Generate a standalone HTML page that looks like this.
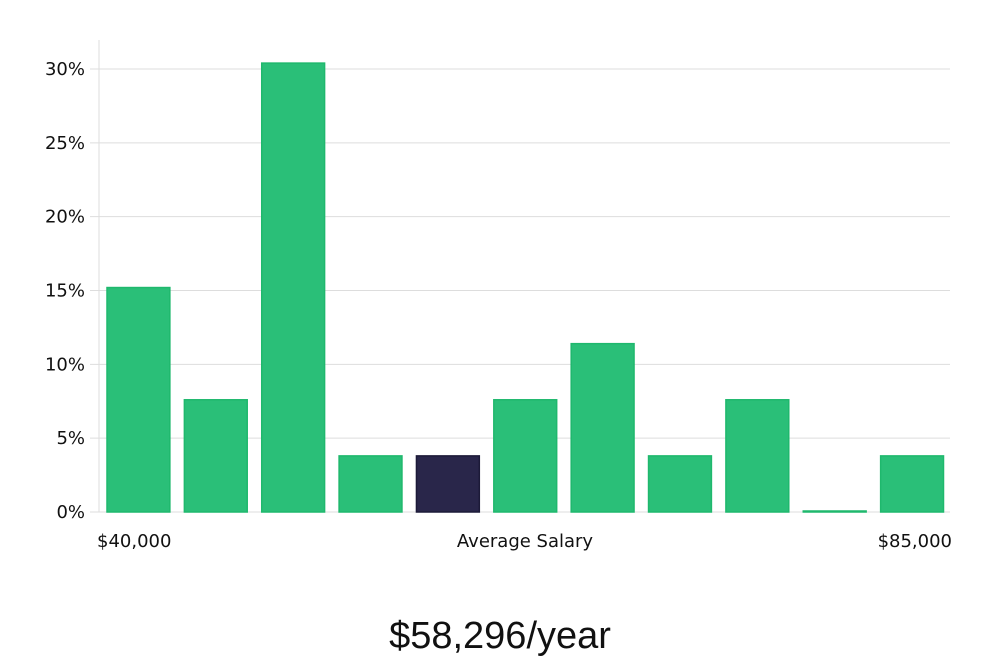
<!DOCTYPE html>
<html><head><meta charset="utf-8"><style>
body{margin:0;background:#fff;width:1000px;height:660px;overflow:hidden}
svg text{font-family:"DejaVu Sans","Liberation Sans",sans-serif}
</style></head><body>
<svg width="1000" height="660">
<g id="grid"></g>
<g id="bars"></g>
<line x1="99" y1="40" x2="99" y2="512" stroke="#ddd"/>
<text x="97" y="547" font-size="18" fill="#111">$40,000</text>
<text x="525" y="547" font-size="18" fill="#111" text-anchor="middle">Average Salary</text>
<text x="952" y="547" font-size="18" fill="#111" text-anchor="end">$85,000</text>
<text x="500" y="648" font-size="38" fill="#111" text-anchor="middle" style="font-family:'Liberation Sans',sans-serif">$58,296/year</text>
</svg>
<script>
const values=[15.2,7.6,30.4,3.8,3.8,7.6,11.4,3.8,7.6,0,3.8];
const highlight=[false,false,false,false,true,false,false,false,false,false,false];
const ticks=[0,5,10,15,20,25,30];
const tickLabels=["0%","5%","10%","15%","20%","25%","30%"];
const NS="http://www.w3.org/2000/svg";
const x0=99,x1=950,y0=512,yTop=69;
const y=v=>y0-(v/30)*(y0-yTop);
const band=(x1-x0)/values.length;
const g=document.getElementById('grid'),b=document.getElementById('bars');
ticks.forEach((t,i)=>{
 const l=document.createElementNS(NS,'line');
 
 
 l.setAttribute('x1',90);l.setAttribute('x2',x1);l.setAttribute('y1',y(t));l.setAttribute('y2',y(t));
 l.setAttribute('stroke','#ddd');g.appendChild(l);
 const tx=document.createElementNS(NS,'text');
 
 
 tx.setAttribute('x',85);tx.setAttribute('y',y(t)+6);tx.setAttribute('text-anchor','end');
 tx.setAttribute('font-size','18');tx.setAttribute('fill','#111');tx.textContent=tickLabels[i];g.appendChild(tx);
});
values.forEach((v,i)=>{
 const r=document.createElementNS(NS,'rect');
 
 
 const h=Math.max(y0-y(v),1);
 r.setAttribute('x',x0+i*band+8);r.setAttribute('width',band-14.5);
 r.setAttribute('y',y0-h);r.setAttribute('height',h);
 r.setAttribute('fill',highlight[i]?'#29264a':'#2abf78');
 r.setAttribute('stroke',highlight[i]?'#1c1a38':'#1fb86d');r.setAttribute('stroke-width','1.5');
 b.appendChild(r);
});
</script>
</body></html>
